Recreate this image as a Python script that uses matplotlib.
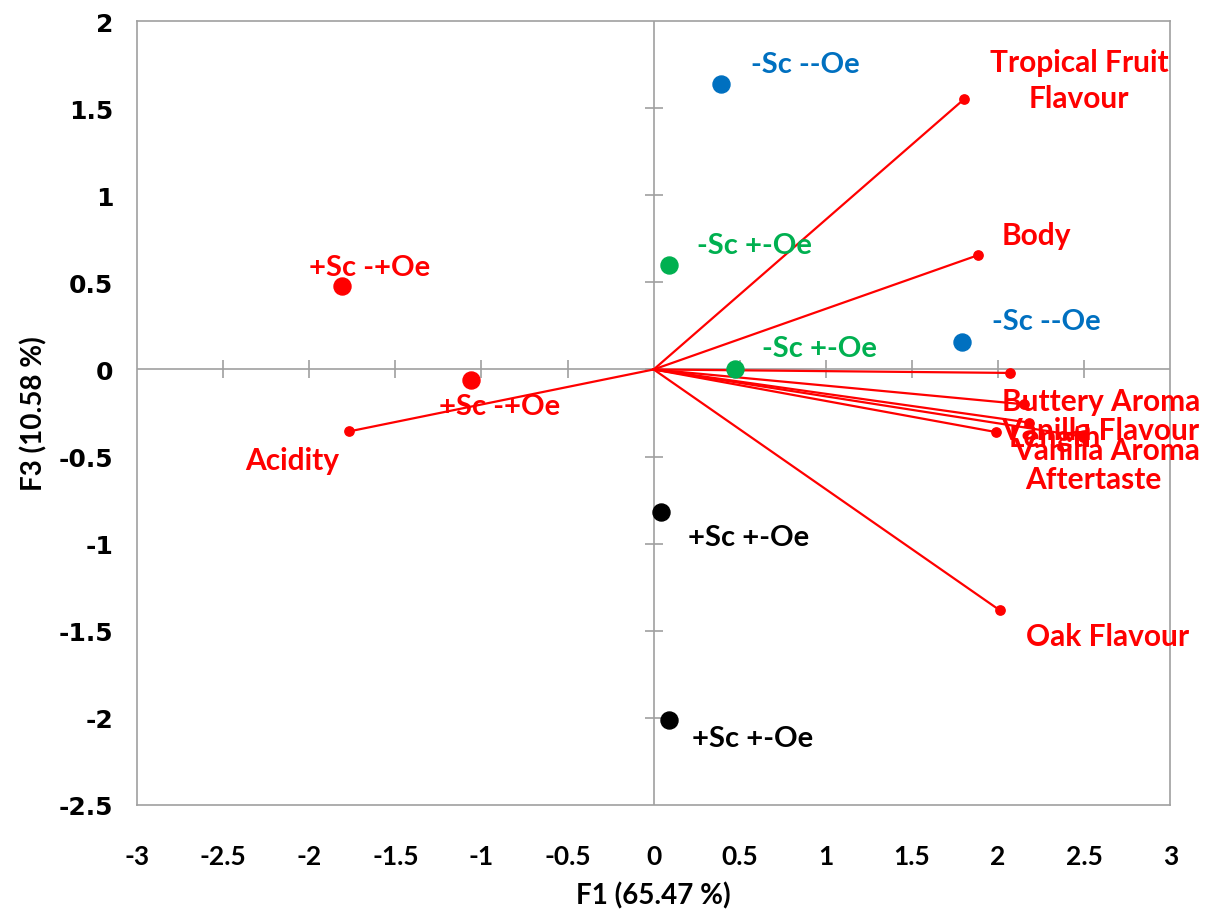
import matplotlib.pyplot as plt
import numpy as np

# observations (F1, F3)
obs_labels = ['-Sc --Oe', '-Sc +-Oe', '+Sc -+Oe', '+Sc -+Oe',
              '-Sc --Oe', '-Sc +-Oe', '+Sc +-Oe', '+Sc +-Oe']
obs_x = [0.39, 0.09, -1.81, -1.06, 1.79, 0.47, 0.04, 0.09]
obs_y = [1.64, 0.60, 0.48, -0.06, 0.16, 0.00, -0.82, -2.01]
obs_colors = ['#0070C0', '#00B050', '#FF0000', '#FF0000',
              '#0070C0', '#00B050', '#000000', '#000000']
# label offsets in pixels (left edge, centre height)
obs_dx = [30, 28, -33, -32, 30, 27, 27, 23]
obs_dy = [20, 20, 19, -26, 21, 21, -25, -18]

# variables (loadings)
var_names = ['Tropical Fruit\nFlavour', 'Body', 'Buttery Aroma', 'Vanilla Flavour',
             'Length', 'Vanilla Aroma', 'Aftertaste', 'Oak Flavour', 'Acidity']
var_x = [1.80, 1.88, 2.07, 2.15, 2.49, 2.18, 1.99, 2.01, -1.77]
var_y = [1.55, 0.655, -0.02, -0.20, -0.385, -0.305, -0.36, -1.383, -0.356]
lab_x = [2.47, 2.22, 2.60, 2.595, 2.33, 2.63, 2.55, 2.635, -2.10]
lab_y = [1.66, 0.77, -0.18, -0.345, -0.385, -0.465, -0.63, -1.53, -0.517]

xticks = np.arange(-3, 3.01, 0.5)
yticks = np.arange(-2.5, 2.01, 0.5)

lab_font = ['Lato', 'DejaVu Sans']

fig = plt.figure(figsize=(12.23, 9.2), dpi=100)
ax = fig.add_axes([0.112, 0.124, 0.845, 0.852])
ax.set_xlim(-3, 3)
ax.set_ylim(-2.5, 2)

for s in ax.spines.values():
    s.set_color('#A0A0A0')
    s.set_linewidth(1.2)

gray = '#A0A0A0'
ax.axhline(0, color=gray, lw=1.2, zorder=1)
ax.axvline(0, color=gray, lw=1.2, zorder=1)
ax.plot(xticks[1:-1], np.zeros(len(xticks) - 2), ls='none', marker='|',
        ms=13, mew=1.2, color=gray, zorder=1)
ax.plot(np.zeros(len(yticks) - 2), yticks[1:-1], ls='none', marker='_',
        ms=13, mew=1.2, color=gray, zorder=1)

ax.set_xticks(xticks)
ax.set_yticks(yticks)
ax.set_xticklabels([f'{v:g}' for v in xticks], family=lab_font,
                   fontweight='bold', fontsize=19)
ax.set_yticklabels([f'{v:g}' for v in yticks], family='DejaVu Sans',
                   fontweight='bold', fontsize=18)
ax.tick_params(axis='y', length=0, pad=17)
ax.tick_params(axis='x', length=0, pad=28)

ax.set_xlabel('F1 (65.47 %)', family=lab_font, fontweight='bold',
              fontsize=20, labelpad=10)
ax.set_ylabel('F3 (10.58 %)', family=lab_font, fontweight='bold',
              fontsize=20, labelpad=8)

# loading vectors
for x, y, name, tx, ty in zip(var_x, var_y, var_names, lab_x, lab_y):
    ax.plot([0, x], [0, y], color='#FF0000', lw=1.6, zorder=2)
    ax.scatter([x], [y], s=45, color='#FF0000', zorder=3)
    ax.text(tx, ty, name, color='#FF0000', fontsize=21.5, fontweight='bold',
            family=lab_font, ha='center', va='center', linespacing=1.35,
            zorder=4)

# observations
for x, y, name, c, dx, dy in zip(obs_x, obs_y, obs_labels, obs_colors,
                                 obs_dx, obs_dy):
    ax.scatter([x], [y], s=150, color=c, zorder=5)
    ax.annotate(name, (x, y), xytext=(dx, dy), textcoords='offset pixels',
                color=c, fontsize=21, fontweight='bold', family=lab_font,
                ha='left', va='center', zorder=6)

fig.savefig('out.png', dpi=100)
